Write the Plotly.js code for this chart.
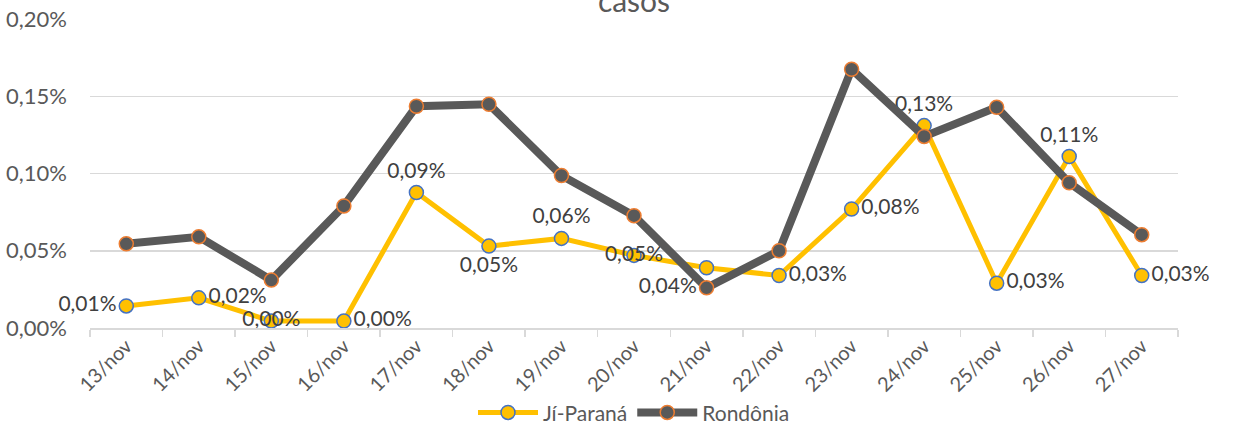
<!DOCTYPE html>
<html>
<head>
<meta charset="utf-8">
<script src="https://cdn.plot.ly/plotly-3.0.1.min.js"></script>
<style>html,body{margin:0;padding:0;background:#fff;}#chart{width:1234px;height:426px;}</style>
</head>
<body>
<div id="chart"></div>
<script>
const categories = ["13/nov","14/nov","15/nov","16/nov","17/nov","18/nov","19/nov","20/nov","21/nov","22/nov","23/nov","24/nov","25/nov","26/nov","27/nov"];
const jiParana = [0.000143,0.000195,0.000045,0.000045,0.000877,0.00053,0.00058,0.00047,0.00039,0.00034,0.00077,0.00131,0.00029,0.00111,0.00034];
const rondonia = [0.000545,0.00059,0.00031,0.00079,0.001435,0.001448,0.000987,0.000727,0.00026,0.0005,0.001675,0.00124,0.001429,0.00094,0.000604];
const jiLabelPos = ["middle left","middle right","middle center","middle right","top center","bottom center","top center","middle center","bottom left","middle right","middle right","top center","middle right","top center","middle right"];

const FONT = "Lato, 'Open Sans', sans-serif";

const traces = [
  {
    x: categories, y: jiParana, name: "Jí-Paraná", type: "scatter", mode: "lines+markers+text",
    line: {color: "#FFC000", width: 5},
    marker: {size: 14, color: "#FFC000", line: {color: "#4472C4", width: 1.5}},
    texttemplate: "%{y:.2%}", textposition: jiLabelPos,
    textfont: {family: FONT, size: 21, color: "#404040"},
    cliponaxis: false
  },
  {
    x: categories, y: rondonia, name: "Rondônia", type: "scatter", mode: "lines+markers",
    line: {color: "#595959", width: 8},
    marker: {size: 14, color: "#595959", line: {color: "#ED7D31", width: 1.5}},
    cliponaxis: false
  }
];

const layout = {
  width: 1234, height: 426,
  margin: {l: 90, r: 56, t: 19, b: 98},
  paper_bgcolor: "#fff", plot_bgcolor: "#fff",
  separators: ",.",
  font: {family: FONT, color: "#595959", size: 21},
  title: {text: "casos", x: 0.5, xref: "paper", y: 0.996, yref: "container", yanchor: "middle", font: {family: FONT, size: 30, color: "#595959"}},
  showlegend: true,
  legend: {orientation: "h", x: 0.5, xanchor: "center", xref: "paper", y: 0.031, yref: "container", yanchor: "middle", bgcolor: "rgba(0,0,0,0)", font: {family: FONT, size: 21, color: "#595959"}, traceorder: "normal", itemwidth: 60},
  xaxis: {
    type: "category", range: [-0.5, 14.5], autorange: false, automargin: false, showgrid: false, showline: true, linecolor: "#d9d9d9", linewidth: 1.5,
    ticks: "outside", tickson: "boundaries", ticklen: 7, tickcolor: "#d9d9d9", tickwidth: 1.5, ticklabelstandoff: -3,
    tickangle: -45, tickfont: {family: FONT, size: 20, color: "#595959"}, zeroline: false
  },
  yaxis: {
    range: [0, 0.002], autorange: false, automargin: false, dtick: 0.0005, tickformat: ".2%", showgrid: true, gridcolor: "#d9d9d9", gridwidth: 1.5,
    zeroline: false, showline: false, ticks: "", tickfont: {family: FONT, size: 22, color: "#595959"}, ticklabelstandoff: 22
  }
};

Plotly.newPlot("chart", traces, layout, {displayModeBar: false, staticPlot: true});
</script>
</body>
</html>
